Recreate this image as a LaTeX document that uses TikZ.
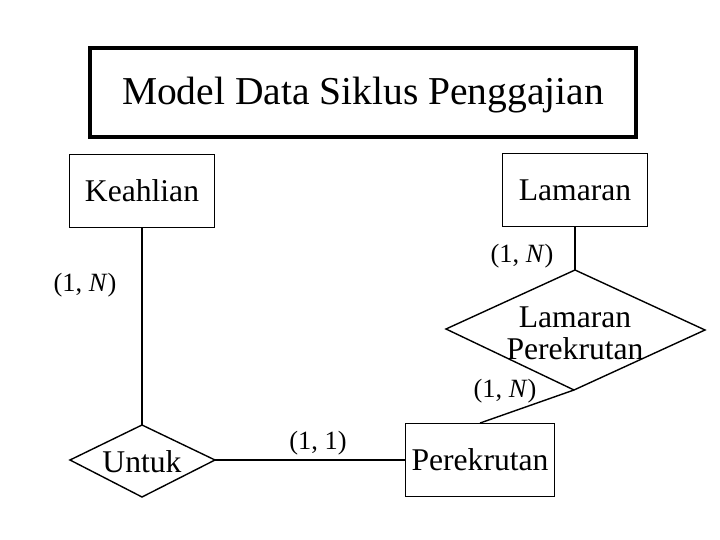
\documentclass[tikz,border=0pt]{standalone}
\usepackage{fontspec}
\setmainfont{Liberation Serif}
\usetikzlibrary{shapes.geometric}
\tikzset{entity/.style={draw, thick, minimum width=2.9cm, minimum height=1.45cm, font=\fontsize{18}{19}\selectfont},
  card/.style={font=\fontsize{15}{16}\selectfont}}
\begin{document}
\begin{tikzpicture}[x=0.02cm,y=-0.02cm]
%\draw [help lines] (0,0) grid (720,540);
\useasboundingbox (0,0) rectangle (720,540);

\draw [line width=2.2pt] (90,48) rectangle (636,137);
\node (title) at (363,95) {\fontsize{22.5}{24}\selectfont Model Data Siklus Penggajian};

\node [entity] (keahlian) at (142,191) {Keahlian};
\node [entity] (lamaran) at (575,190) {Lamaran};
\node [entity] (perekrutan) at (480,460) {Perekrutan};

% diamonds drawn directly
\coordinate (lpT) at (575,270);
\coordinate (lpB) at (574,390);
\draw [thick] (446,329) -- (lpT) -- (705,330) -- (lpB) -- cycle;
\node [align=center, font=\fontsize{18}{18}\selectfont] (lp) at (575,333) {Lamaran\\Perekrutan};

\coordinate (unT) at (142,425);
\coordinate (unR) at (215,460);
\draw [thick] (70,460) -- (unT) -- (unR) -- (142,497) -- cycle;
\node [font=\fontsize{18}{19}\selectfont] (untuk) at (142,462) {Untuk};

\draw [thick] (keahlian.south) -- (unT);
\draw [thick] (lamaran.south) -- (lpT);
\draw [thick] (lpB) -- (perekrutan.north);
\draw [thick] (unR) -- (perekrutan.west);

\node [card] at (85,285) {(1, \textit{N})};
\node [card] at (522,256) {(1, \textit{N})};
\node [card] at (505,391) {(1, \textit{N})};
\node [card] at (318,443) {(1, 1)};
\end{tikzpicture}
\end{document}
